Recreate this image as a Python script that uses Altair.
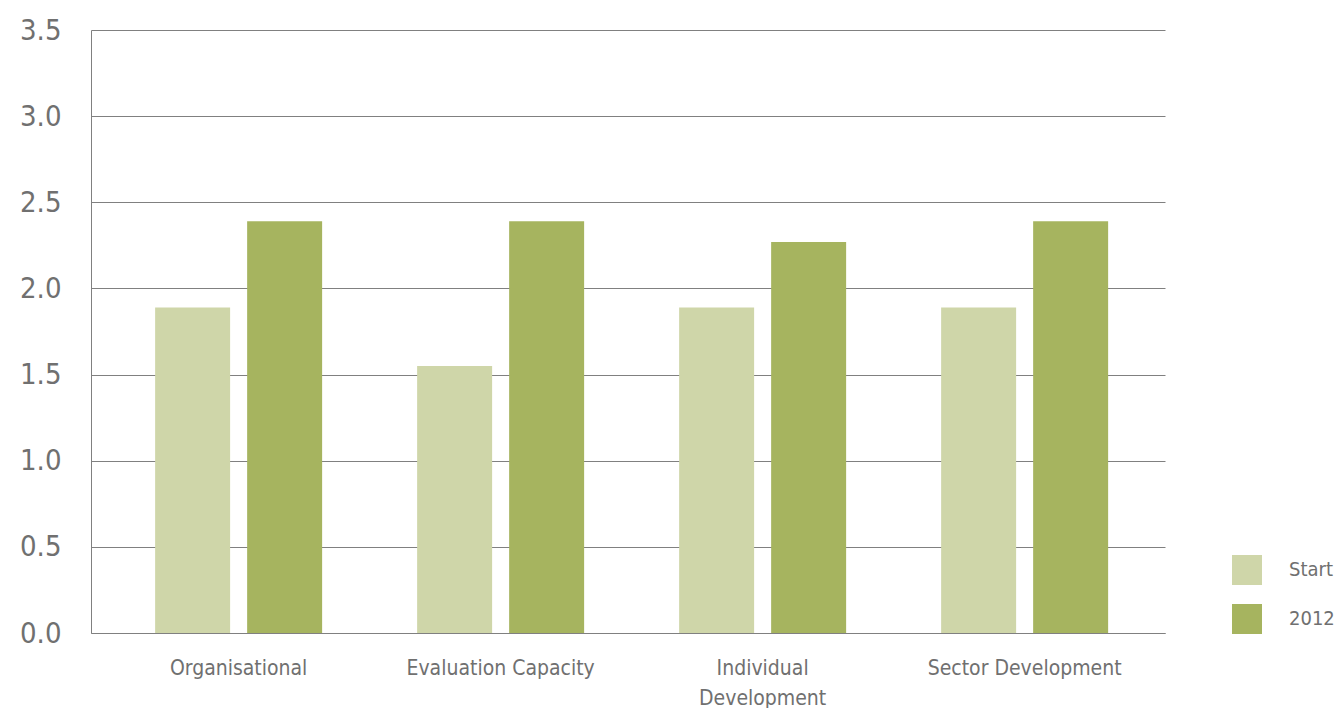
import altair as alt
import pandas as pd

categories = ["Organisational", "Evaluation Capacity", "Individual Development", "Sector Development"]
series = ["Start", "2012"]
start_values = [1.89, 1.55, 1.89, 1.89]
values_2012 = [2.39, 2.39, 2.27, 2.39]
colors = ["#cfd6a9", "#a6b45f"]

rows = []
for c, s, v in zip(categories, start_values, values_2012):
    rows.append({"category": c, "series": "Start", "value": s})
    rows.append({"category": c, "series": "2012", "value": v})
df = pd.DataFrame(rows)

FONT = "DejaVu Sans Condensed"

chart = alt.Chart(df).mark_bar().encode(
    x=alt.X("category:N", sort=categories, title=None,
            scale=alt.Scale(paddingInner=0.3626, paddingOuter=0.2309, align=0.53),
            axis=alt.Axis(labelAngle=0, labelFontSize=21, labelColor="#707070",
                          labelFont=FONT, ticks=False, domain=True,
                          domainColor="#808080", labelPadding=24,
                          labelLineHeight=30, labelLimit=400,
                          labelExpr="datum.label == 'Individual Development' ? ['Individual', 'Development'] : datum.label")),
    xOffset=alt.XOffset("series:N", sort=series,
                        scale=alt.Scale(paddingInner=0.185, paddingOuter=0)),
    y=alt.Y("value:Q", title=None,
            scale=alt.Scale(domain=[0, 3.5]),
            axis=alt.Axis(values=[0, 0.5, 1, 1.5, 2, 2.5, 3, 3.5], format=".1f",
                          labelFontSize=29, labelColor="#707070", labelFont=FONT,
                          ticks=False, domain=True, domainColor="#808080",
                          labelPadding=30, grid=True, gridColor="#808080",
                          gridOpacity=1)),
    color=alt.Color("series:N", sort=series,
                    scale=alt.Scale(domain=series, range=colors),
                    legend=alt.Legend(title=None, orient="none", legendX=1141, legendY=525,
                                      symbolType="square", symbolSize=900,
                                      symbolStrokeWidth=0, labelFontSize=20,
                                      labelColor="#707070", labelFont=FONT,
                                      labelOffset=27, rowPadding=19, labelLimit=200)),
).properties(
    width=1074, height=603,
    autosize=alt.AutoSizeParams(type="none"),
    padding={"left": 91, "top": 30, "right": 175, "bottom": 75},
).configure_view(stroke=None).configure_axis(gridWidth=1)

chart.save("out.html", embed_options={"renderer": "svg", "actions": False})
